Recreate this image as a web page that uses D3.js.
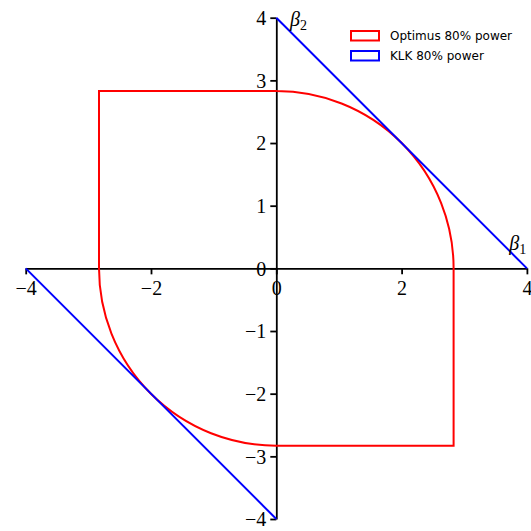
<!DOCTYPE html>
<html>
<head>
<meta charset="utf-8">
<script src="https://cdn.jsdelivr.net/npm/d3@7"></script>
<style>
  html, body { margin: 0; padding: 0; background: #fff; }
  svg { display: block; }
  .tick text { font-family: "Liberation Serif", "DejaVu Serif", serif; font-size: 20px; fill: #000; }
</style>
</head>
<body>
<svg id="chart" width="531" height="531"></svg>
<script>
// Axis ranges and tick values
const xDomain = [-4, 4];
const yDomain = [-4, 4];
const xTicks = [-4, -2, 0, 2, 4];
const yTicks = [-4, -3, -2, -1, 0, 1, 2, 3, 4];

// Optimus 80% power region: half-width of the square / radius of the rounded quadrants
const optimusBound = 2.83;
// Rejection boundaries of the KLK test: segments |b1| + |b2| = 4 in quadrants I and III
const klkUpper = [[0, 4], [4, 0]];
const klkLower = [[-4, 0], [0, -4]];

const legendLabels = ["Optimus 80% power", "KLK 80% power"];
const legendColors = ["#ff0000", "#0000ff"];

const svg = d3.select("#chart");
const x = d3.scaleLinear().domain(xDomain).range([25.7, 526.9]);
const y = d3.scaleLinear().domain(yDomain).range([519, 17.7]);

const fmt = d => d < 0 ? "\u2212" + Math.abs(d) : String(d);

// Axes crossing at the origin
const xAxis = d3.axisBottom(x).tickValues(xTicks).tickSize(6).tickSizeOuter(0).tickPadding(6).tickFormat(fmt);
const yAxis = d3.axisLeft(y).tickValues(yTicks).tickSize(6).tickSizeOuter(0).tickPadding(4).tickFormat(fmt);

const gx = svg.append("g").attr("transform", `translate(0,${y(0)})`).call(xAxis);
const gy = svg.append("g").attr("transform", `translate(${x(0)},0)`).call(yAxis);
[gx, gy].forEach(g => {
  g.select(".domain").attr("stroke", "#000").attr("stroke-width", 1.8);
  g.selectAll(".tick line").attr("stroke", "#000").attr("stroke-width", 1.8);
});
gy.selectAll(".tick text").attr("dy", "0.34em");

// Optimus region outline: square corners in quadrants II and IV, quarter circles in I and III
const a = optimusBound;
const r = x(a) - x(0);
const p = d3.path();
p.moveTo(x(0), y(a));
p.lineTo(x(-a), y(a));
p.lineTo(x(-a), y(0));
p.arc(x(0), y(0), r, Math.PI, Math.PI / 2, true);
p.lineTo(x(a), y(-a));
p.lineTo(x(a), y(0));
p.arc(x(0), y(0), r, 0, -Math.PI / 2, true);
p.closePath();
svg.append("path").attr("d", p.toString())
  .attr("fill", "none").attr("stroke", legendColors[0]).attr("stroke-width", 2);

// KLK boundary segments
const line = d3.line().x(d => x(d[0])).y(d => y(d[1]));
[klkUpper, klkLower].forEach(seg => {
  svg.append("path").attr("d", line(seg))
    .attr("fill", "none").attr("stroke", legendColors[1]).attr("stroke-width", 2);
});

// Axis names
function beta(px, py, sub) {
  const t = svg.append("text").attr("x", px).attr("y", py)
    .attr("font-family", "Liberation Serif, DejaVu Serif, serif")
    .attr("font-size", 20).attr("fill", "#000");
  t.append("tspan").attr("font-style", "italic").text("\u03B2");
  t.append("tspan").attr("font-size", 14).attr("dy", 4).text(sub);
}
beta(x(0.22), y(3.86), "2");
beta(x(3.72), y(0.3), "1");

// Legend
const lg = svg.append("g").attr("transform", "translate(351,31)");
legendLabels.forEach((lab, i) => {
  const row = lg.append("g").attr("transform", `translate(0,${i * 20})`);
  row.append("rect").attr("x", 0).attr("y", 0).attr("width", 28).attr("height", 9.5)
    .attr("fill", "none").attr("stroke", legendColors[i]).attr("stroke-width", 2);
  row.append("text").attr("x", 39).attr("y", 5).attr("dy", "0.35em")
    .attr("font-family", "DejaVu Sans, sans-serif").attr("font-size", 12).attr("fill", "#000")
    .text(lab);
});
</script>
</body>
</html>
